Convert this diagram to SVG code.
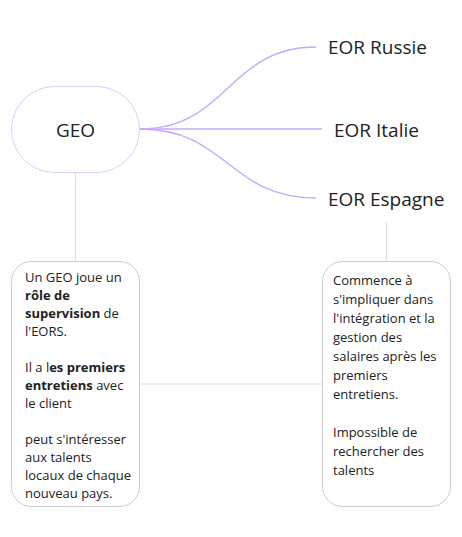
<svg xmlns="http://www.w3.org/2000/svg" width="462" height="537" viewBox="0 0 462 537">
<style>
text{font-family:"Open Sans","Noto Sans","Liberation Sans",sans-serif;fill:#222}
.big{font-size:19px}
.t{font-size:13px}
.b{font-weight:bold}
.curve{fill:none;stroke:#c7a9fb;stroke-width:1.4}
.link{fill:none;stroke:#e6d9ff;stroke-width:1.2}
.box{fill:#fff;stroke:#cccccc;stroke-width:1}
.geo{fill:#fff;stroke:#dccbff;stroke-width:1}
</style>
<rect width="462" height="537" fill="#fff"/>
<g id="connectors">
<path class="curve" d="M140 129 C228 129 228 47 316 47"/>
<path class="curve" d="M140 129 L322 129"/>
<path class="curve" d="M140 129 C228 129 228 198 316 198"/>
<path class="link" d="M75.5 173 L75.5 261"/>
<path class="link" d="M386.5 222 L386.5 261"/>
<path class="link" d="M140 384 L322 384"/>
</g>
<g id="geo">
<rect class="geo" x="11.5" y="86.5" width="128" height="86" rx="43" ry="43"/>
<text class="big" x="75.5" y="137" text-anchor="middle">GEO</text>
</g>
<g id="eor-russie">
<text class="big" x="328" y="54">EOR Russie</text>
</g>
<g id="eor-italie">
<text class="big" x="334" y="137">EOR Italie</text>
</g>
<g id="eor-espagne">
<text class="big" x="328" y="205.5">EOR Espagne</text>
</g>
<g id="geo-desc">
<rect class="box" x="11.5" y="261.5" width="128" height="245" rx="20" ry="20"/>
<text class="t" x="25">
<tspan x="25" y="281.5">Un GEO joue un</tspan>
<tspan x="25" y="299.5" class="b">rôle de</tspan>
<tspan x="25" y="317.5"><tspan class="b">supervision</tspan> de</tspan>
<tspan x="25" y="335.5">l'EORS.</tspan>
<tspan x="25" y="371.5">Il a l<tspan class="b">es premiers</tspan></tspan>
<tspan x="25" y="389.5"><tspan class="b">entretiens</tspan> avec</tspan>
<tspan x="25" y="407.5">le client</tspan>
<tspan x="25" y="443.5">peut s'intéresser</tspan>
<tspan x="25" y="461.5">aux talents</tspan>
<tspan x="25" y="479.5">locaux de chaque</tspan>
<tspan x="25" y="497.5">nouveau pays.</tspan>
</text>
</g>
<g id="eor-desc">
<rect class="box" x="322.5" y="261.5" width="128" height="245" rx="20" ry="20"/>
<text class="t">
<tspan x="333" y="284.5">Commence à</tspan>
<tspan x="333" y="303.5">s'impliquer dans</tspan>
<tspan x="333" y="322.5">l'intégration et la</tspan>
<tspan x="333" y="341.5">gestion des</tspan>
<tspan x="333" y="360.5">salaires après les</tspan>
<tspan x="333" y="379.5">premiers</tspan>
<tspan x="333" y="398.5">entretiens.</tspan>
<tspan x="333" y="436.5">Impossible de</tspan>
<tspan x="333" y="455.5">rechercher des</tspan>
<tspan x="333" y="474.5">talents</tspan>
</text>
</g>
</svg>
